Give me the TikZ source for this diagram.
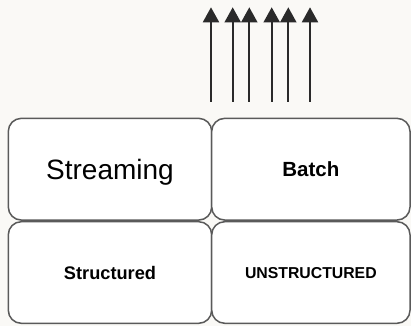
\documentclass[tikz,border=0pt]{standalone}
\usepackage{fontspec}
\setmainfont{Liberation Sans}
\usetikzlibrary{arrows.meta}
\definecolor{bg}{HTML}{FAF9F6}
\definecolor{boxline}{HTML}{5A5A5A}
\definecolor{arrowc}{HTML}{2A2A2A}
\tikzset{
  cell/.style={draw=boxline, line width=1.5pt, fill=white, rounded corners=13pt, inner sep=0pt, text depth=0pt},
  upflow/.style={draw=arrowc, line width=2pt, -{Triangle[width=16pt,length=15pt]}}
}
\begin{document}
\begin{tikzpicture}[x=1pt,y=-1pt]
\fill[bg] (0,0) rectangle (411,326);
\useasboundingbox (0,0) rectangle (411,326);
\node[cell, minimum width=203.4pt, minimum height=101.7pt] (stream) at (110,169.2) {\fontsize{28}{32}\selectfont Streaming};
\node[cell, minimum width=198.3pt, minimum height=101.7pt] (batch) at (310.85,169.2) {\fontsize{20.5}{24}\selectfont\bfseries Batch};
\node[cell, minimum width=203.4pt, minimum height=101.6pt] (struct) at (110,272.5) {\fontsize{18.2}{22}\selectfont\bfseries Structured};
\node[cell, minimum width=198.3pt, minimum height=101.6pt] (unstruct) at (310.85,272.5) {\fontsize{15.8}{19}\selectfont\bfseries UNSTRUCTURED};
\foreach \i/\x in {1/211,2/232.7,3/249.3,4/271.7,5/288.3,6/310}{
  \coordinate (s\i) at (\x,101.7);
  \coordinate (e\i) at (\x,7.3);
  \draw[upflow] (s\i) -- (e\i);
}
\end{tikzpicture}
\end{document}
